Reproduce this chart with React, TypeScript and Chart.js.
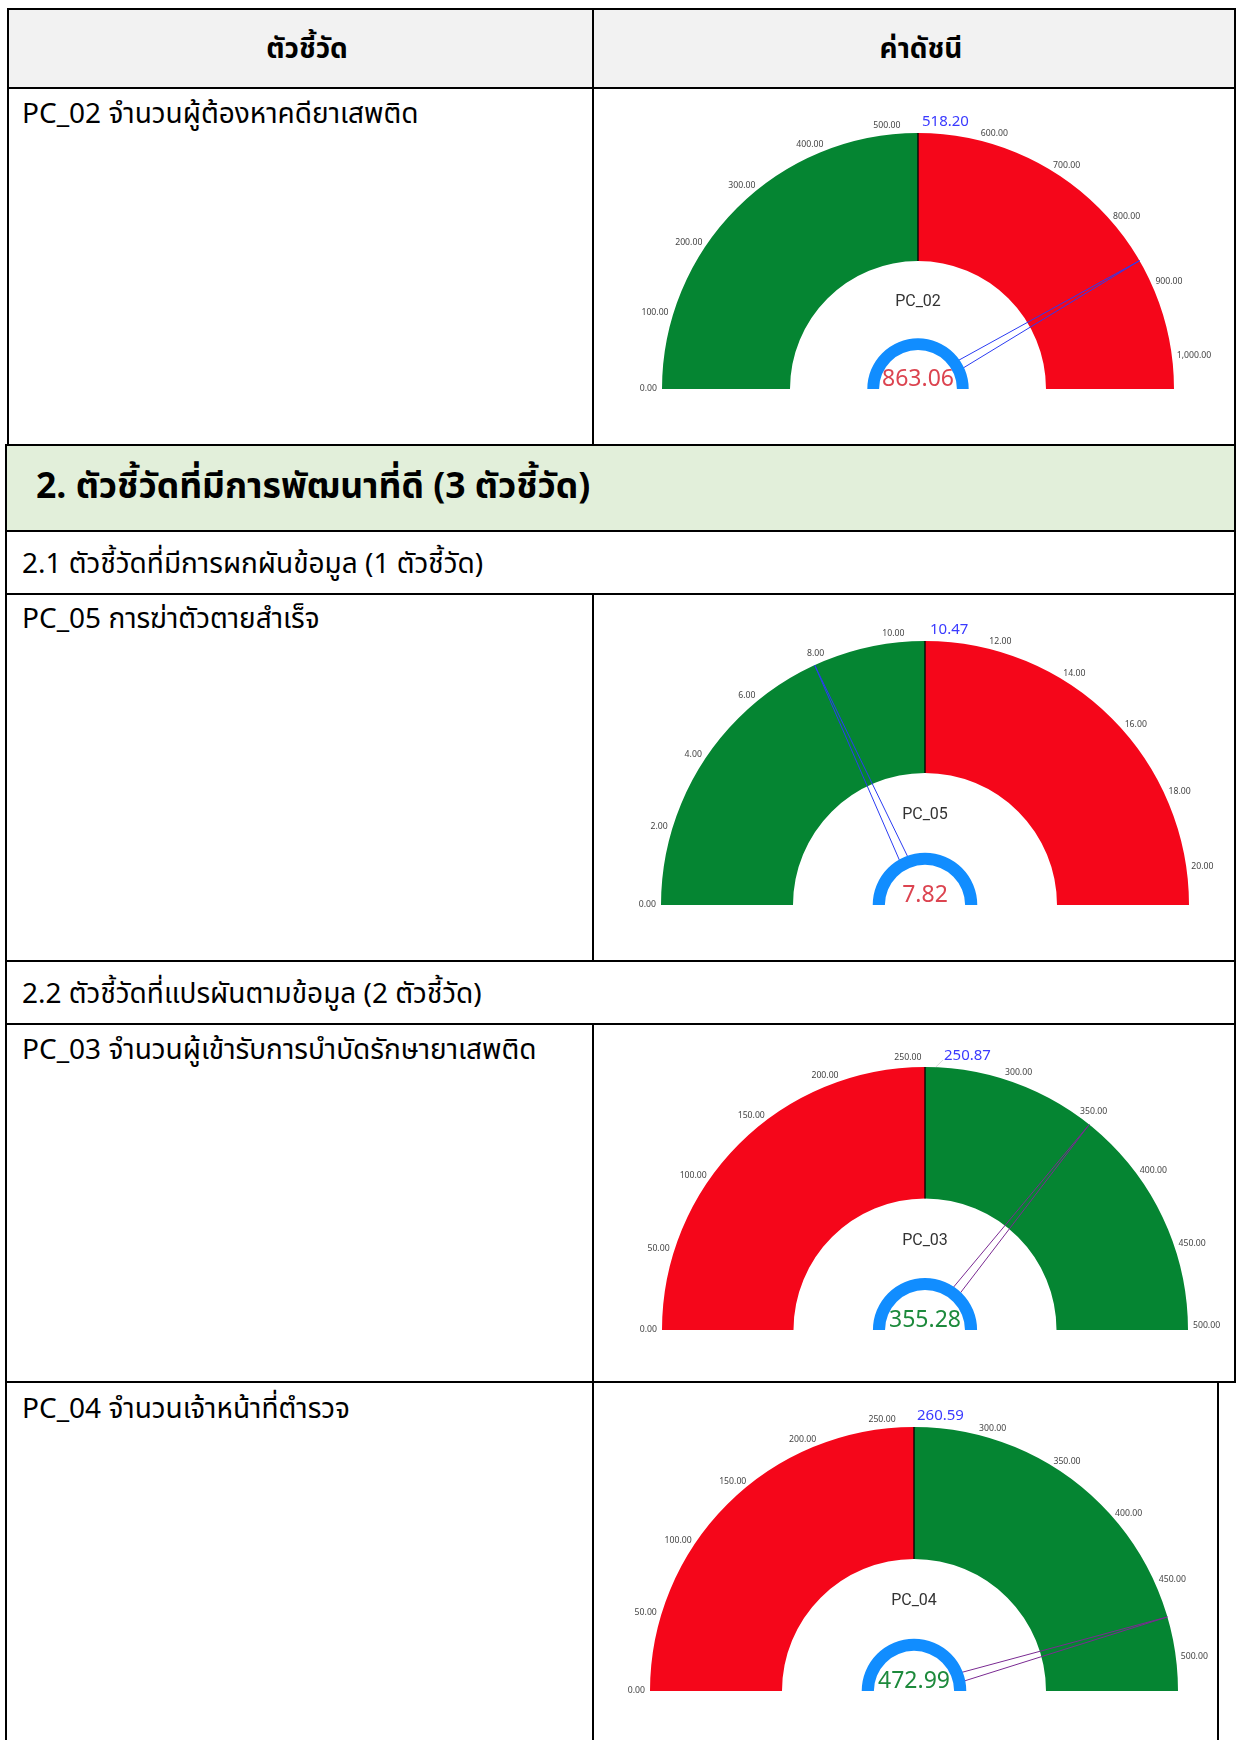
import React, { useEffect, useRef } from 'react';
import { Chart, registerables } from 'chart.js';

Chart.register(...registerables);

// ---------- data ----------
const gaugeCodes = ['PC_02', 'PC_05', 'PC_03', 'PC_04'];
const gaugeNames = [
  'จำนวนผู้ต้องหาคดียาเสพติด',
  'การฆ่าตัวตายสำเร็จ',
  'จำนวนผู้เข้ารับการบำบัดรักษายาเสพติด',
  'จำนวนเจ้าหน้าที่ตำรวจ',
];
const gaugeMax = [1000, 20, 500, 500];
const gaugeSplit = [500, 10, 250, 250];
const gaugeTargets = [518.2, 10.47, 250.87, 260.59];
const gaugeValues = [863.06, 7.82, 355.28, 472.99];
const lowerSegmentGood = [true, true, false, false];
const ticksPC02 = [0, 100, 200, 300, 400, 500, 600, 700, 800, 900, 1000];
const ticksPC05 = [0, 2, 4, 6, 8, 10, 12, 14, 16, 18, 20];
const ticksPC03 = [0, 50, 100, 150, 200, 250, 300, 350, 400, 450, 500];
const ticksPC04 = [0, 50, 100, 150, 200, 250, 300, 350, 400, 450, 500];
const gaugeTicks = [ticksPC02, ticksPC05, ticksPC03, ticksPC04];

const headerLabels = ['ตัวชี้วัด', 'ค่าดัชนี'];
const sectionTitle = '2. ตัวชี้วัดที่มีการพัฒนาที่ดี (3 ตัวชี้วัด)';
const subTitles = ['2.1 ตัวชี้วัดที่มีการผกผันข้อมูล (1 ตัวชี้วัด)', '2.2 ตัวชี้วัดที่แปรผันตามข้อมูล (2 ตัวชี้วัด)'];

// ---------- styles ----------
const GREEN = '#058532';
const RED = '#f5061a';
const RING = '#118DFF';
const VALUE_RED = '#dc4450';
const VALUE_GREEN = '#1d8a3c';
const THAI_FONT = "'Leelawadee UI', 'Noto Sans Thai', 'Noto Sans Thai UI', Tahoma, 'Noto Sans', sans-serif";
const DEG = Math.PI / 180;

const fmt = (v: number) =>
  v.toLocaleString('en-US', { minimumFractionDigits: 2, maximumFractionDigits: 2 });

const gaugePlugin = {
  id: 'gaugeDecor',
  afterDatasetsDraw(chart: any, _args: any, opts: any) {
    const meta = chart.getDatasetMeta(0);
    const first = meta.data[0] as any;
    const cx = first.x;
    const cy = first.y;
    const R = first.outerRadius;
    const r = first.innerRadius;
    const start = first.startAngle; // left end of the dial
    const mid = first.endAngle; // boundary between the two segments
    const dial = opts.dial as { kL: number; rStart: number; kR: number };
    // angle of a value on the dial (each half maps its own half of the range)
    const ang = (v: number) => {
      const half = opts.max / 2;
      const phi = v <= half ? 180 - dial.kL * (v / half) : dial.rStart - dial.kR * ((v - half) / half);
      return start + (180 - phi) * DEG;
    };
    const ctx = chart.ctx as CanvasRenderingContext2D;
    ctx.save();

    // divider between the two segments
    ctx.strokeStyle = '#000';
    ctx.lineWidth = 1.3;
    ctx.beginPath();
    ctx.moveTo(cx + r * Math.cos(mid), cy + r * Math.sin(mid));
    ctx.lineTo(cx + R * Math.cos(mid), cy + R * Math.sin(mid));
    ctx.stroke();

    // needle
    const t = ang(opts.value);
    const tipX = cx + R * Math.cos(t);
    const tipY = cy + R * Math.sin(t);
    const rb = 0.19 * R;
    const bx = cx + rb * Math.cos(t);
    const by = cy + rb * Math.sin(t);
    const px = -Math.sin(t);
    const py = Math.cos(t);
    const hw = 4.5;
    ctx.strokeStyle = opts.needleColor;
    ctx.lineWidth = 1;
    ctx.beginPath();
    ctx.moveTo(tipX, tipY);
    ctx.lineTo(bx + px * hw, by + py * hw);
    ctx.moveTo(tipX, tipY);
    ctx.lineTo(bx - px * hw, by - py * hw);
    ctx.stroke();

    // inner blue ring
    ctx.beginPath();
    ctx.arc(cx, cy, 0.198 * R, Math.PI, 2 * Math.PI);
    ctx.arc(cx, cy, 0.152 * R, 2 * Math.PI, Math.PI, true);
    ctx.closePath();
    ctx.fillStyle = RING;
    ctx.fill();

    // tick labels
    ctx.font = "8.7px 'Noto Sans', 'Open Sans', sans-serif";
    ctx.fillStyle = '#454545';
    ctx.textAlign = 'center';
    ctx.textBaseline = 'middle';
    const h = 9;
    for (const v of opts.ticks as number[]) {
      const th = ang(v);
      const s = fmt(v);
      const w = ctx.measureText(s).width;
      const ax = cx + (R + 5) * Math.cos(th) + Math.cos(th) * (w / 2);
      const ay = cy + (R + 5) * Math.sin(th) + Math.sin(th) * (h / 2);
      ctx.fillText(s, ax, ay);
    }

    // target label
    const tt = ang(opts.target);
    const lx = cx + opts.targetDx;
    const ly = cy - R - 11;
    if (opts.targetDx > 10) {
      ctx.strokeStyle = 'rgba(150,150,150,0.35)';
      ctx.lineWidth = 1;
      ctx.beginPath();
      ctx.moveTo(cx + R * Math.cos(tt), cy + R * Math.sin(tt));
      ctx.lineTo(lx - 1, ly + 4);
      ctx.stroke();
    }
    ctx.font = "15px 'Noto Sans', sans-serif";
    ctx.fillStyle = '#3a3aff';
    ctx.textAlign = 'left';
    ctx.textBaseline = 'middle';
    ctx.fillText(fmt(opts.target), lx, ly);

    // code label
    ctx.font = "16px Roboto, 'Noto Sans', sans-serif";
    ctx.fillStyle = '#333';
    ctx.textAlign = 'center';
    ctx.fillText(opts.code, cx, cy - 0.34 * R);

    // value label
    ctx.font = "23px 'Noto Sans', sans-serif";
    ctx.fillStyle = opts.valueColor;
    ctx.textAlign = 'center';
    ctx.textBaseline = 'alphabetic';
    ctx.fillText(fmt(opts.value), cx, cy - 3);

    ctx.restore();
  },
};

type Dial = { kL: number; rStart: number; kR: number };
type GaugeProps = {
  idx: number; cx: number; cy: number; R: number; dial: Dial;
  targetDx: number; valueColor: string; needleColor: string;
};

function Gauge({ idx, cx, cy, R, dial, targetDx, valueColor, needleColor }: GaugeProps) {
  const ref = useRef<HTMLCanvasElement | null>(null);
  const padX = 62;
  const padTop = 36;
  const padBottom = 10;
  const W = 2 * R + 2 * padX;
  const H = R + padTop + padBottom;
  useEffect(() => {
    if (!ref.current) return;
    const good = lowerSegmentGood[idx];
    const chart = new Chart(ref.current, {
      type: 'doughnut',
      data: {
        labels: ['low', 'high'],
        datasets: [
          {
            data: [gaugeSplit[idx], gaugeMax[idx] - gaugeSplit[idx]],
            backgroundColor: good ? [GREEN, RED] : [RED, GREEN],
            borderWidth: 0,
          },
        ],
      },
      options: {
        responsive: false,
        animation: false,
        rotation: -90,
        circumference: 180,
        cutout: '50%',
        events: [],
        layout: { padding: { left: padX, right: padX, top: padTop, bottom: padBottom } },
        plugins: {
          legend: { display: false },
          tooltip: { enabled: false },
          gaugeDecor: {
            max: gaugeMax[idx],
            ticks: gaugeTicks[idx],
            target: gaugeTargets[idx],
            value: gaugeValues[idx],
            code: gaugeCodes[idx],
            dial,
            targetDx,
            valueColor,
            needleColor,
          },
        } as any,
      },
      plugins: [gaugePlugin],
    });
    return () => chart.destroy();
  }, [idx, dial, targetDx, valueColor, needleColor]);
  return (
    <canvas
      ref={ref}
      width={W}
      height={H}
      style={{ position: 'absolute', left: cx - R - padX, top: cy - R - padTop, width: W, height: H }}
    />
  );
}

const B = '#000';
function HLine({ x1, x2, y }: { x1: number; x2: number; y: number }) {
  return <div style={{ position: 'absolute', left: x1, top: y - 1, width: x2 - x1, height: 2, background: B }} />;
}
function VLine({ x, y1, y2 }: { x: number; y1: number; y2: number }) {
  return <div style={{ position: 'absolute', left: x - 1, top: y1, width: 2, height: y2 - y1, background: B }} />;
}
function Txt({
  x, cy, text, size, bold, center, w,
}: { x: number; cy: number; text: string; size: number; bold?: boolean; center?: boolean; w?: number }) {
  return (
    <div
      style={{
        position: 'absolute',
        left: center ? x - (w || 300) / 2 : x,
        width: center ? w || 300 : undefined,
        top: cy - 30,
        height: 60,
        lineHeight: '60px',
        fontSize: size,
        fontWeight: bold ? 700 : 400,
        fontFamily: THAI_FONT,
        whiteSpace: 'nowrap',
        textAlign: center ? 'center' : 'left',
        color: '#000',
      }}
    >
      {text}
    </div>
  );
}

const DIAL_STD: Dial = { kL: 83.5, rStart: 90.5, kR: 83.2 };
const DIAL_PC05: Dial = { kL: 83.5, rStart: 91, kR: 83 };
const DIAL_PC03: Dial = { kL: 86.5, rStart: 88, kR: 87 };

export default function App() {
  return (
    <div
      style={{
        position: 'absolute', left: 0, top: 0, width: 1237, height: 1740,
        overflow: 'hidden', background: '#fff',
      }}
    >
      {/* header background */}
      <div style={{ position: 'absolute', left: 8, top: 9, width: 1227, height: 79, background: '#f2f2f2' }} />
      {/* green section background */}
      <div style={{ position: 'absolute', left: 6, top: 445, width: 1229, height: 85, background: '#e2efda' }} />

      {/* table 1 lines */}
      <HLine x1={7} x2={1236} y={9} />
      <HLine x1={7} x2={1236} y={88} />
      <VLine x={8} y1={8} y2={445} />
      <VLine x={593} y1={8} y2={445} />
      <VLine x={1235} y1={8} y2={445} />

      {/* table 2 lines */}
      <HLine x1={5} x2={1236} y={445} />
      <HLine x1={5} x2={1236} y={531} />
      <HLine x1={5} x2={1236} y={594} />
      <HLine x1={5} x2={1236} y={961} />
      <HLine x1={5} x2={1236} y={1024} />
      <HLine x1={5} x2={1236} y={1382} />
      <VLine x={6} y1={444} y2={1740} />
      <VLine x={1235} y1={444} y2={1383} />
      <VLine x={1218} y1={1381} y2={1740} />
      <VLine x={593} y1={594} y2={961} />
      <VLine x={593} y1={1024} y2={1740} />

      {/* texts */}
      <Txt x={307} cy={50} text={headerLabels[0]} size={28} bold center />
      <Txt x={921} cy={50} text={headerLabels[1]} size={28} bold center />
      <Txt x={22} cy={115} text={`${gaugeCodes[0]} ${gaugeNames[0]}`} size={28} />
      <Txt x={36} cy={487} text={sectionTitle} size={35.5} bold />
      <Txt x={22} cy={565} text={subTitles[0]} size={28} />
      <Txt x={22} cy={620} text={`${gaugeCodes[1]} ${gaugeNames[1]}`} size={28} />
      <Txt x={22} cy={995} text={subTitles[1]} size={28} />
      <Txt x={22} cy={1051} text={`${gaugeCodes[2]} ${gaugeNames[2]}`} size={28} />
      <Txt x={22} cy={1410} text={`${gaugeCodes[3]} ${gaugeNames[3]}`} size={28} />

      {/* gauges */}
      <Gauge idx={0} cx={918} cy={389} R={256} dial={DIAL_STD} targetDx={4} valueColor={VALUE_RED} needleColor="#2b3cf2" />
      <Gauge idx={1} cx={925} cy={905} R={264} dial={DIAL_PC05} targetDx={5} valueColor={VALUE_RED} needleColor="#2b3cf2" />
      <Gauge idx={2} cx={925} cy={1330} R={263} dial={DIAL_PC03} targetDx={19} valueColor={VALUE_GREEN} needleColor="#7a2a92" />
      <Gauge idx={3} cx={914} cy={1691} R={264} dial={DIAL_STD} targetDx={3} valueColor={VALUE_GREEN} needleColor="#7a2a92" />
    </div>
  );
}
